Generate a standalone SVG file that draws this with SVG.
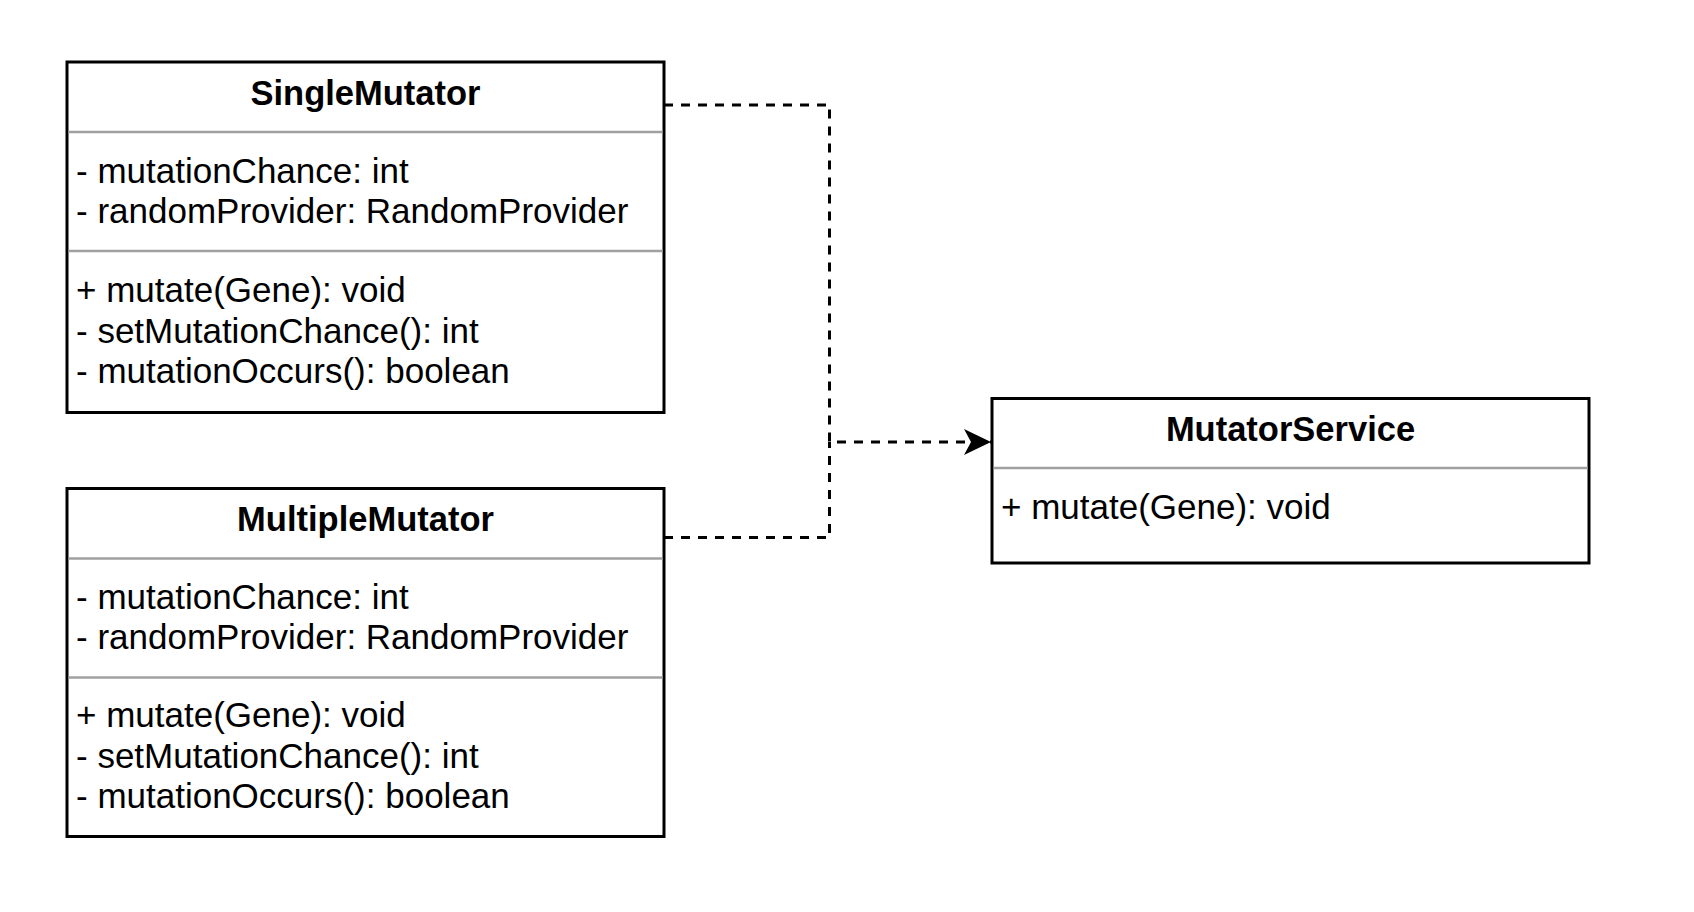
<svg xmlns="http://www.w3.org/2000/svg" width="1694" height="912" viewBox="0 0 1694 912">
<defs>
<style>
.box{fill:#fff;stroke:#000;stroke-width:3}
.div{stroke:#a0a0a0;stroke-width:2.5}
.t{font-family:"Liberation Sans",Arial,Helvetica,sans-serif;font-size:35px;fill:#000}
.b{font-weight:bold;text-anchor:middle;font-size:34.5px}
.con{fill:none;stroke:#000;stroke-width:3;stroke-dasharray:9 8}
</style>
<marker id="arr" markerUnits="userSpaceOnUse" markerWidth="30" markerHeight="30" refX="27" refY="13" orient="auto">
<path d="M0,0 L27,13 L0,26 L7,13 Z" fill="#000"/>
</marker>
</defs>
<rect width="1694" height="912" fill="#fff"/>
<g id="connectors">
<path class="con" d="M664,105 H829.5 V442 H991" marker-end="url(#arr)"/>
<path class="con" d="M664,537.5 H829.5 V442"/>
</g>
<g id="SingleMutator">
<rect class="box" x="67" y="62" width="597" height="350.5"/>
<line class="div" x1="68.5" y1="132" x2="662.5" y2="132"/>
<line class="div" x1="68.5" y1="251" x2="662.5" y2="251"/>
<text class="t b" x="365.5" y="105">SingleMutator</text>
<text class="t" x="76" y="183">- mutationChance: int</text>
<text class="t" x="76" y="223">- randomProvider: RandomProvider</text>
<text class="t" x="76" y="302">+ mutate(Gene): void</text>
<text class="t" x="76" y="342.5">- setMutationChance(): int</text>
<text class="t" x="76" y="383">- mutationOccurs(): boolean</text>
</g>
<g id="MultipleMutator">
<rect class="box" x="67" y="488.5" width="597" height="348"/>
<line class="div" x1="68.5" y1="558.5" x2="662.5" y2="558.5"/>
<line class="div" x1="68.5" y1="677.5" x2="662.5" y2="677.5"/>
<text class="t b" x="365.5" y="531">MultipleMutator</text>
<text class="t" x="76" y="608.5">- mutationChance: int</text>
<text class="t" x="76" y="648.5">- randomProvider: RandomProvider</text>
<text class="t" x="76" y="727">+ mutate(Gene): void</text>
<text class="t" x="76" y="767.5">- setMutationChance(): int</text>
<text class="t" x="76" y="808">- mutationOccurs(): boolean</text>
</g>
<g id="MutatorService">
<rect class="box" x="992" y="398.5" width="597" height="164.5"/>
<line class="div" x1="993.5" y1="468" x2="1587.5" y2="468"/>
<text class="t b" x="1290.5" y="441">MutatorService</text>
<text class="t" x="1001" y="518.5">+ mutate(Gene): void</text>
</g>
</svg>
